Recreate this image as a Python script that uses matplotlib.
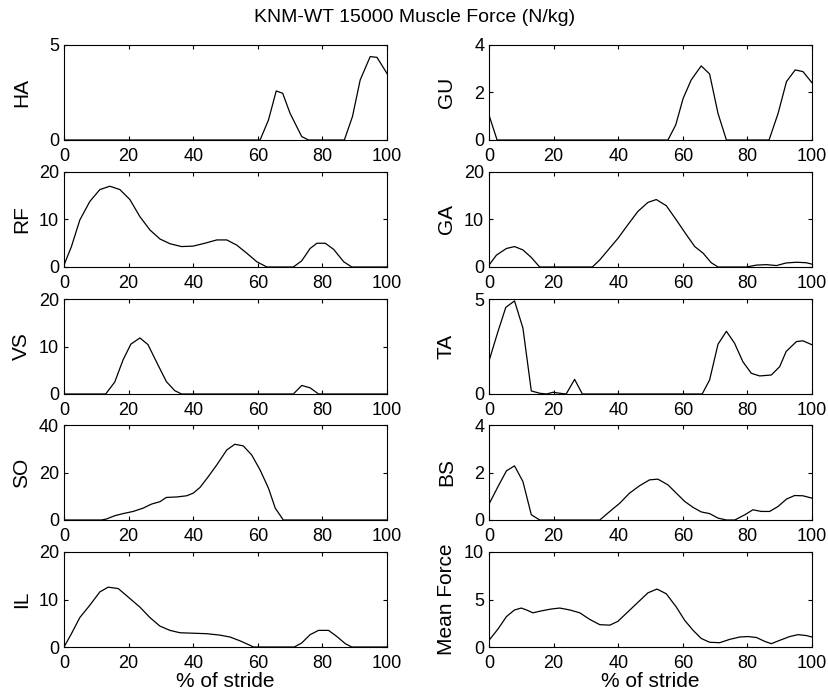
import matplotlib
matplotlib.use("Agg")
import matplotlib.pyplot as plt

plt.rcParams['font.family'] = ['Liberation Sans', 'DejaVu Sans']

title = "KNM-WT 15000 Muscle Force (N/kg)"
xlabel = "% of stride"
xticks = [0, 20, 40, 60, 80, 100]

ha_x = [0, 60.7, 63.3, 65.7, 67.7, 70.0, 73.6, 75.7, 86.8, 89.3, 91.7, 94.8, 96.9, 100]
ha_y = [0, 0, 1.05, 2.58, 2.46, 1.4, 0.18, 0, 0, 1.23, 3.16, 4.39, 4.35, 3.5]

gu_x = [0, 2.5, 55.4, 57.8, 60.1, 62.6, 65.7, 68.3, 70.9, 73.5, 86.7, 89.5, 92.1, 94.8, 97.2, 100]
gu_y = [1.05, 0, 0, 0.63, 1.75, 2.53, 3.12, 2.78, 1.12, 0, 0, 1.12, 2.46, 2.95, 2.88, 2.41]

rf_x = [0, 2.3, 4.9, 8.0, 11.1, 14.2, 17.3, 20.4, 23.5, 26.6, 29.7, 32.8, 36.4, 40.0, 43.6, 47.3,
        50.4, 53.5, 56.6, 59.7, 62.8, 71.0, 73.6, 76.2, 78.3, 80.9, 83.5, 86.6, 89.1, 100]
rf_y = [0.4, 4.3, 9.9, 13.8, 16.3, 17.0, 16.3, 14.2, 10.6, 7.8, 5.9, 4.9, 4.3, 4.4, 5.0, 5.7,
        5.7, 4.6, 2.9, 1.1, 0, 0, 1.3, 3.9, 5.0, 5.0, 3.7, 1.1, 0, 0]

ga_x = [0, 2.3, 5.4, 7.9, 10.5, 13.1, 15.7, 32.0, 34.3, 36.9, 40.0, 43.0, 46.1, 49.2, 51.8, 54.9,
        58.0, 61.1, 63.7, 66.3, 68.8, 70.9, 79.7, 82.8, 85.9, 89.0, 92.0, 95.2, 98.2, 100]
ga_y = [0.4, 2.5, 3.9, 4.3, 3.6, 2.0, 0, 0, 1.5, 3.6, 6.1, 8.9, 11.7, 13.6, 14.2, 12.9,
        9.9, 6.8, 4.3, 2.9, 0.9, 0, 0, 0.4, 0.5, 0.3, 0.85, 1.0, 0.9, 0.6]

vs_x = [0, 12.9, 15.7, 18.3, 20.7, 23.5, 26.0, 28.6, 31.7, 34.3, 36.4, 71.0, 73.6, 76.2, 78.8, 100]
vs_y = [0, 0, 2.5, 7.2, 10.5, 11.8, 10.4, 6.8, 2.6, 0.7, 0, 0, 1.8, 1.3, 0, 0]

ta_x = [0, 2.8, 5.2, 7.9, 10.5, 13.1, 15.7, 17.8, 19.8, 21.9, 23.9, 26.5, 28.9, 66.0, 68.3, 70.9,
        73.5, 76.0, 78.6, 81.2, 83.8, 87.4, 90.0, 92.0, 95.2, 97.2, 100]
ta_y = [1.74, 3.3, 4.56, 4.9, 3.47, 0.16, 0.04, 0, 0.09, 0.04, 0, 0.77, 0, 0, 0.74, 2.62,
        3.3, 2.68, 1.7, 1.09, 0.95, 1.0, 1.44, 2.24, 2.76, 2.8, 2.59]

so_x = [0, 11.6, 13.1, 15.7, 18.3, 21.4, 24.5, 27.1, 29.7, 31.7, 34.9, 38.0, 40.0, 42.1, 44.7, 47.3,
        50.4, 52.9, 55.5, 58.1, 60.7, 63.3, 65.4, 67.9, 100]
so_y = [0, 0, 0.4, 1.8, 2.7, 3.6, 5.0, 6.7, 7.7, 9.5, 9.7, 10.2, 11.3, 13.7, 18.3, 23.2,
        29.5, 31.9, 31.2, 27.4, 21.1, 13.4, 5.0, 0, 0]

bs_x = [0, 2.8, 5.4, 7.9, 10.5, 13.1, 15.7, 34.3, 37.4, 40.5, 43.5, 46.6, 49.7, 52.3, 55.4, 58.0,
        60.6, 63.2, 65.7, 68.3, 70.9, 73.5, 76.1, 79.2, 81.7, 84.3, 86.9, 89.5, 92.1, 94.6, 97.2, 100]
bs_y = [0.67, 1.41, 2.07, 2.28, 1.62, 0.22, 0, 0, 0.36, 0.71, 1.13, 1.44, 1.69, 1.72, 1.48, 1.13,
        0.78, 0.53, 0.34, 0.27, 0.08, 0, 0, 0.22, 0.43, 0.36, 0.36, 0.57, 0.88, 1.03, 1.02, 0.92]

il_x = [0, 2.3, 4.9, 8.0, 11.1, 13.7, 16.8, 19.9, 23.5, 26.6, 29.7, 32.8, 35.9, 40.0, 44.2, 48.3,
        51.4, 54.5, 57.6, 58.6, 71.3, 73.6, 76.2, 78.8, 81.9, 84.5, 87.1, 89.1, 100]
il_y = [0, 2.8, 6.2, 8.8, 11.6, 12.6, 12.3, 10.5, 8.4, 6.2, 4.4, 3.5, 3.0, 2.9, 2.8, 2.5,
        2.1, 1.3, 0.35, 0, 0, 0.85, 2.6, 3.5, 3.5, 2.2, 0.7, 0, 0]

mf_x = [0, 2.8, 5.4, 7.9, 10.0, 11.6, 13.6, 16.2, 19.3, 21.9, 25.0, 28.1, 31.2, 34.3, 37.4, 39.9,
        43.0, 46.1, 49.2, 52.0, 54.9, 58.0, 60.6, 63.2, 65.7, 68.3, 71.4, 74.5, 77.6, 80.2, 82.8,
        85.3, 87.4, 90.0, 93.1, 95.7, 98.3, 100]
mf_y = [0.7, 1.9, 3.2, 3.9, 4.1, 3.9, 3.6, 3.8, 4.0, 4.1, 3.9, 3.6, 2.9, 2.35, 2.3, 2.7,
        3.7, 4.7, 5.7, 6.1, 5.6, 4.2, 2.8, 1.75, 0.9, 0.5, 0.45, 0.8, 1.05, 1.1, 1.0,
        0.6, 0.35, 0.7, 1.1, 1.3, 1.2, 1.05]

panels = [
    ("HA", ha_x, ha_y, [0, 5]),
    ("GU", gu_x, gu_y, [0, 2, 4]),
    ("RF", rf_x, rf_y, [0, 10, 20]),
    ("GA", ga_x, ga_y, [0, 10, 20]),
    ("VS", vs_x, vs_y, [0, 10, 20]),
    ("TA", ta_x, ta_y, [0, 5]),
    ("SO", so_x, so_y, [0, 20, 40]),
    ("BS", bs_x, bs_y, [0, 2, 4]),
    ("IL", il_x, il_y, [0, 10, 20]),
    ("Mean Force", mf_x, mf_y, [0, 5, 10]),
]

W, H = 829, 693
fig = plt.figure(figsize=(W / 100, H / 100), dpi=100)
lefts = [64, 489]
tops = [45, 172, 299, 425, 552]
aw, ah = 323, 95

for i, (name, xs, ys, yt) in enumerate(panels):
    r, c = divmod(i, 2)
    ax = fig.add_axes([lefts[c] / W, 1 - (tops[r] + ah) / H, aw / W, ah / H])
    ax.plot(xs, ys, color='black', linewidth=0.9)
    ax.set_xlim(0, 100)
    ax.set_ylim(yt[0], yt[-1])
    ax.set_xticks(xticks)
    ax.set_yticks(yt)
    ax.tick_params(direction='in', length=3, width=0.8, top=True, right=True,
                   labelsize=13)
    ax.tick_params(axis='x', pad=6)
    ax.tick_params(axis='y', pad=3.5)
    for s in ax.spines.values():
        s.set_linewidth(0.8)
    ax.set_ylabel(name, fontsize=15)
    ax.yaxis.set_label_coords(-33 / aw, 0.5)
    if r == 4:
        ax.set_xlabel(xlabel, fontsize=15, labelpad=0)

fig.text(415 / W, 1 - 18 / H, title, ha='center', va='center', fontsize=14)
fig.savefig("out.png", dpi=100)
